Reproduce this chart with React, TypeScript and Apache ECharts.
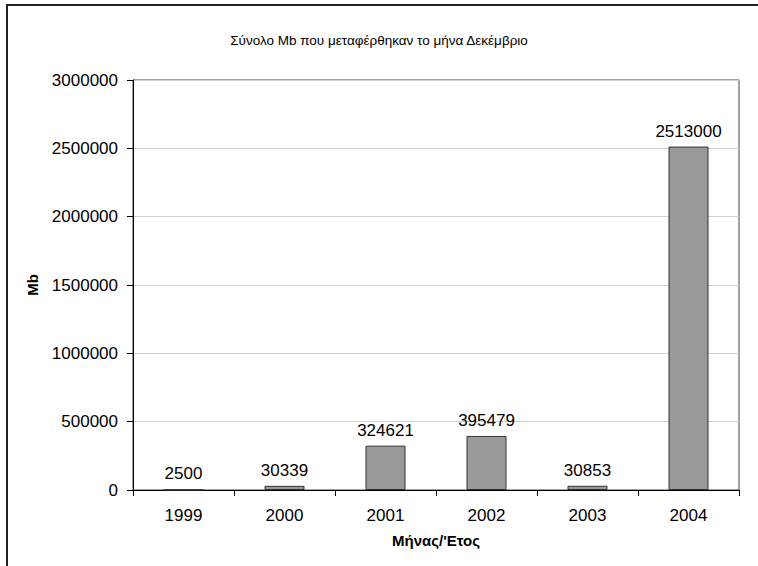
import React, { useEffect, useRef } from "react";
import * as echarts from "echarts";

const categories = ["1999", "2000", "2001", "2002", "2003", "2004"];
const values = [2500, 30339, 324621, 395479, 30853, 2513000];
const titleText = "Σύνολο Mb που μεταφέρθηκαν το μήνα Δεκέμβριο";
const xName = "Μήνας/'Ετος";
const yName = "Mb";

export default function App() {
  const ref = useRef<HTMLDivElement>(null);
  useEffect(() => {
    const chart = echarts.init(ref.current!, undefined, { renderer: "svg" });
    const font = "Liberation Sans, Arial, sans-serif";
    chart.setOption({
      animation: false,
      backgroundColor: "#ffffff",
      textStyle: { fontFamily: font },
      title: {
        text: titleText,
        left: "center",
        top: 28,
        textStyle: { fontFamily: font, fontSize: 13.5, fontWeight: "normal", color: "#000" },
      },
      graphic: [
        {
          type: "polyline",
          shape: { points: [[7, 570], [7, 5], [760, 5]] },
          style: { stroke: "#222", lineWidth: 2, fill: "none" },
        },
      ],
      grid: {
        left: 133,
        right: 19,
        top: 80,
        bottom: 76,
        show: true,
        borderColor: "#444",
        borderWidth: 1,
        backgroundColor: "transparent",
      },
      xAxis: {
        type: "category",
        data: categories,
        name: xName,
        nameLocation: "middle",
        nameGap: 43,
        nameMoveOverlap: false,
        nameTextStyle: { fontFamily: font, fontSize: 15, fontWeight: "bold", color: "#000" },
        axisLine: { lineStyle: { color: "#000", width: 1 } },
        axisTick: { show: true, length: 6, lineStyle: { color: "#000" } },
        axisLabel: { fontFamily: font, fontSize: 17, color: "#000", margin: 17 },
      },
      yAxis: {
        type: "value",
        min: 0,
        max: 3000000,
        interval: 500000,
        name: yName,
        nameLocation: "middle",
        nameGap: 93,
        nameMoveOverlap: false,
        nameTextStyle: { fontFamily: font, fontSize: 15, fontWeight: "bold", color: "#000" },
        axisLine: { show: true, lineStyle: { color: "#000", width: 1 } },
        axisTick: { show: true, length: 6, lineStyle: { color: "#000" } },
        axisLabel: {
          fontFamily: font,
          fontSize: 17,
          color: "#000",
          margin: 15,
          formatter: (v: number) => String(v),
        },
        splitLine: { show: true, lineStyle: { color: "#cfcfcf", width: 1 } },
      },
      series: [
        {
          type: "bar",
          data: values,
          barWidth: 40,
          itemStyle: { color: "#999999", borderColor: "#333", borderWidth: 1 },
          label: {
            show: true,
            position: "top",
            distance: 7,
            fontFamily: font,
            fontSize: 17,
            color: "#000",
          },
        },
      ],
    });
    return () => chart.dispose();
  }, []);
  return (
    <div
      ref={ref}
      style={{ position: "fixed", left: 0, top: 0, width: 758, height: 566 }}
    />
  );
}
